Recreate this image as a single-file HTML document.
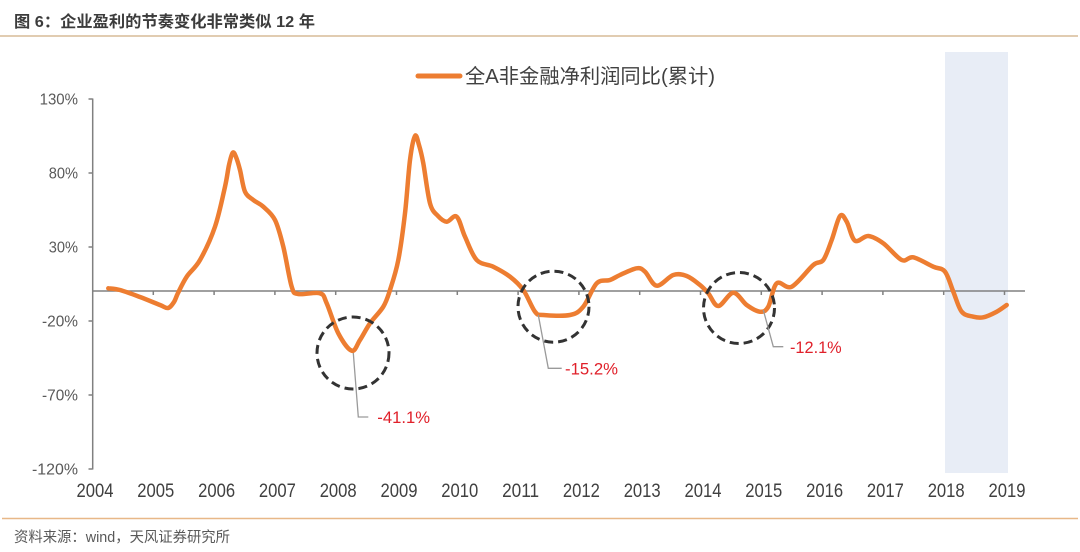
<!DOCTYPE html>
<html>
<head>
<meta charset="utf-8">
<style>
html,body{margin:0;padding:0;background:#fff;}
body{width:1080px;height:552px;overflow:hidden;}
svg{display:block;}
</style>
</head>
<body>
<svg width="1080" height="552" viewBox="0 0 1080 552" xmlns="http://www.w3.org/2000/svg">
  <rect x="0" y="0" width="1080" height="552" fill="#ffffff"/>
  <!-- title -->
  <text x="14" y="27" font-family="'Liberation Sans','Noto Sans CJK SC',sans-serif" font-size="16" font-weight="bold" fill="#3c3c3c" textLength="301" lengthAdjust="spacingAndGlyphs">图 6：企业盈利的节奏变化非常类似 12 年</text>
  <line x1="0" y1="36" x2="1078" y2="36" stroke="#cfae82" stroke-width="1.3"/>

  <!-- shaded band -->
  <rect x="945" y="52" width="63" height="421" fill="#e8edf6"/>

  <!-- legend -->
  <line x1="418" y1="76" x2="460" y2="76" stroke="#ED7D31" stroke-width="5" stroke-linecap="round"/>
  <text x="465" y="83" font-family="'Liberation Sans','Noto Sans CJK SC',sans-serif" font-size="20" fill="#404040" textLength="250" lengthAdjust="spacingAndGlyphs">全A非金融净利润同比(累计)</text>

  <!-- y axis -->
  <g stroke="#808080" stroke-width="1.5" fill="none">
    <line x1="92.7" y1="98.5" x2="92.7" y2="469.5"/>
    <line x1="88.5" y1="99" x2="92.7" y2="99"/>
    <line x1="88.5" y1="173" x2="92.7" y2="173"/>
    <line x1="88.5" y1="247" x2="92.7" y2="247"/>
    <line x1="88.5" y1="321" x2="92.7" y2="321"/>
    <line x1="88.5" y1="395" x2="92.7" y2="395"/>
    <line x1="88.5" y1="469" x2="92.7" y2="469"/>
    <!-- zero line -->
    <line x1="92.7" y1="291" x2="1025" y2="291"/>
    <line x1="153.3" y1="291" x2="153.3" y2="295"/>
    <line x1="214.1" y1="291" x2="214.1" y2="295"/>
    <line x1="274.9" y1="291" x2="274.9" y2="295"/>
    <line x1="335.7" y1="291" x2="335.7" y2="295"/>
    <line x1="396.5" y1="291" x2="396.5" y2="295"/>
    <line x1="457.3" y1="291" x2="457.3" y2="295"/>
    <line x1="518.1" y1="291" x2="518.1" y2="295"/>
    <line x1="578.9" y1="291" x2="578.9" y2="295"/>
    <line x1="639.7" y1="291" x2="639.7" y2="295"/>
    <line x1="700.5" y1="291" x2="700.5" y2="295"/>
    <line x1="761.3" y1="291" x2="761.3" y2="295"/>
    <line x1="822.1" y1="291" x2="822.1" y2="295"/>
    <line x1="882.9" y1="291" x2="882.9" y2="295"/>
    <line x1="943.7" y1="291" x2="943.7" y2="295"/>
    <line x1="1004.5" y1="291" x2="1004.5" y2="295"/>
  </g>

  <!-- y labels -->
  <g font-family="'Liberation Sans',sans-serif" font-size="16" fill="#595959" text-anchor="end" lengthAdjust="spacingAndGlyphs">
    <text x="78" y="104.7" textLength="38.4" lengthAdjust="spacingAndGlyphs">130%</text>
    <text x="78" y="178.7" textLength="29.3" lengthAdjust="spacingAndGlyphs">80%</text>
    <text x="78" y="252.7" textLength="29.3" lengthAdjust="spacingAndGlyphs">30%</text>
    <text x="78" y="326.7" textLength="36" lengthAdjust="spacingAndGlyphs">-20%</text>
    <text x="78" y="400.7" textLength="36" lengthAdjust="spacingAndGlyphs">-70%</text>
    <text x="78" y="474.7" textLength="46" lengthAdjust="spacingAndGlyphs">-120%</text>
  </g>

  <!-- x labels -->
  <g font-family="'Liberation Sans',sans-serif" font-size="19" fill="#404040" text-anchor="middle">
    <text x="95" y="497" textLength="37" lengthAdjust="spacingAndGlyphs">2004</text>
    <text x="155.8" y="497" textLength="37" lengthAdjust="spacingAndGlyphs">2005</text>
    <text x="216.6" y="497" textLength="37" lengthAdjust="spacingAndGlyphs">2006</text>
    <text x="277.4" y="497" textLength="37" lengthAdjust="spacingAndGlyphs">2007</text>
    <text x="338.2" y="497" textLength="37" lengthAdjust="spacingAndGlyphs">2008</text>
    <text x="399" y="497" textLength="37" lengthAdjust="spacingAndGlyphs">2009</text>
    <text x="459.8" y="497" textLength="37" lengthAdjust="spacingAndGlyphs">2010</text>
    <text x="520.6" y="497" textLength="37" lengthAdjust="spacingAndGlyphs">2011</text>
    <text x="581.4" y="497" textLength="37" lengthAdjust="spacingAndGlyphs">2012</text>
    <text x="642.2" y="497" textLength="37" lengthAdjust="spacingAndGlyphs">2013</text>
    <text x="703" y="497" textLength="37" lengthAdjust="spacingAndGlyphs">2014</text>
    <text x="763.8" y="497" textLength="37" lengthAdjust="spacingAndGlyphs">2015</text>
    <text x="824.6" y="497" textLength="37" lengthAdjust="spacingAndGlyphs">2016</text>
    <text x="885.4" y="497" textLength="37" lengthAdjust="spacingAndGlyphs">2017</text>
    <text x="946.2" y="497" textLength="37" lengthAdjust="spacingAndGlyphs">2018</text>
    <text x="1007" y="497" textLength="37" lengthAdjust="spacingAndGlyphs">2019</text>
  </g>

  <!-- data line -->
  <polyline id="series" fill="none" stroke="#ED7D31" stroke-width="4.5" stroke-linejoin="round" stroke-linecap="round"
    points="108.3,288.3 120,290 140,297 160,305 168,308 174,302 178,293 186.7,276.7 200,260 215,226.7 225,186.7 229,165 232.7,152.7 236,157 240,170 245,191.7 253.3,200 263.3,206.7 275,220 283.3,246.7 291.7,286.7 298.3,294 320,293.3 326.7,303.3 338.3,333.3 351.7,350.7 360,340 370,323.3 383.3,306.7 390,290 398.3,260 405,213.3 410,160 415,136 419,145 423.3,163.3 430,203.3 438,216 446.7,221.7 456.7,216.7 465,236.7 476.7,260 493.3,266.7 510,276.7 523.3,290 535,311.7 543.3,315 570,315 583.3,306.7 596.7,283.3 610,280 620,275 636.7,268.3 645,271.7 656.7,285.7 673.3,275 686.7,276 700,285 708.3,293.3 718.3,306 733.3,292.7 746.7,305 760,311.7 768.3,306.7 776.7,283.3 791.7,286.7 813.3,265 823.3,260 831.7,240 840,216 846.7,221.7 855,240.7 868.3,236 883.3,243.3 901.7,260 913.3,257.3 933.3,266.7 945,271.7 953.3,291.7 961.7,311.7 973.3,316.7 983.3,317.3 996.7,311.7 1006.7,305"/>

  <!-- dashed circles -->
  <g fill="none" stroke="#333333" stroke-width="3" stroke-dasharray="9,5">
    <circle cx="353" cy="353" r="36"/>
    <circle cx="553.5" cy="306.7" r="35.5"/>
    <circle cx="739" cy="308" r="35.5"/>
  </g>

  <!-- leaders -->
  <g fill="none" stroke="#9a9a9a" stroke-width="1.3">
    <polyline points="353.3,353 358.3,417 368.3,417"/>
    <polyline points="538.3,315 548.3,368.3 561.7,368.3"/>
    <polyline points="763.3,310 773.3,346.7 783.3,346.7"/>
  </g>

  <!-- annotation labels -->
  <g font-family="'Liberation Sans',sans-serif" font-size="17" fill="#e0202a">
    <text x="377.3" y="423" textLength="52.7" lengthAdjust="spacingAndGlyphs">-41.1%</text>
    <text x="565" y="374.3" textLength="53" lengthAdjust="spacingAndGlyphs">-15.2%</text>
    <text x="790" y="353" textLength="51.7" lengthAdjust="spacingAndGlyphs">-12.1%</text>
  </g>

  <!-- footer -->
  <line x1="2" y1="518.5" x2="1078" y2="518.5" stroke="#e8b888" stroke-width="1.5"/>
  <text x="14" y="542" font-family="'Liberation Sans','Noto Sans CJK SC',sans-serif" font-size="14.5" fill="#595959" textLength="216" lengthAdjust="spacingAndGlyphs">资料来源：wind，天风证券研究所</text>
</svg>
<script>
(function(){
  try{
    var pl=document.getElementById('series');
    var raw=pl.getAttribute('points').trim().split(/\s+/).map(function(s){var a=s.split(',');return [parseFloat(a[0]),parseFloat(a[1])];});
    var d='M'+raw[0][0]+','+raw[0][1];
    for(var i=0;i<raw.length-1;i++){
      var p0=raw[i>0?i-1:i],p1=raw[i],p2=raw[i+1],p3=raw[i+2<raw.length?i+2:i+1];
      var t=0.5/3;
      var c1x=p1[0]+(p2[0]-p0[0])*t,c1y=p1[1]+(p2[1]-p0[1])*t;
      var c2x=p2[0]-(p3[0]-p1[0])*t,c2y=p2[1]-(p3[1]-p1[1])*t;
      d+=' C'+c1x.toFixed(2)+','+c1y.toFixed(2)+' '+c2x.toFixed(2)+','+c2y.toFixed(2)+' '+p2[0]+','+p2[1];
    }
    var path=document.createElementNS('http://www.w3.org/2000/svg','path');
    path.setAttribute('d',d);
    ['fill','stroke','stroke-width','stroke-linejoin','stroke-linecap'].forEach(function(a){path.setAttribute(a,pl.getAttribute(a));});
    pl.parentNode.insertBefore(path,pl);
    pl.parentNode.removeChild(pl);
  }catch(e){}
})();
</script>
</body>
</html>
